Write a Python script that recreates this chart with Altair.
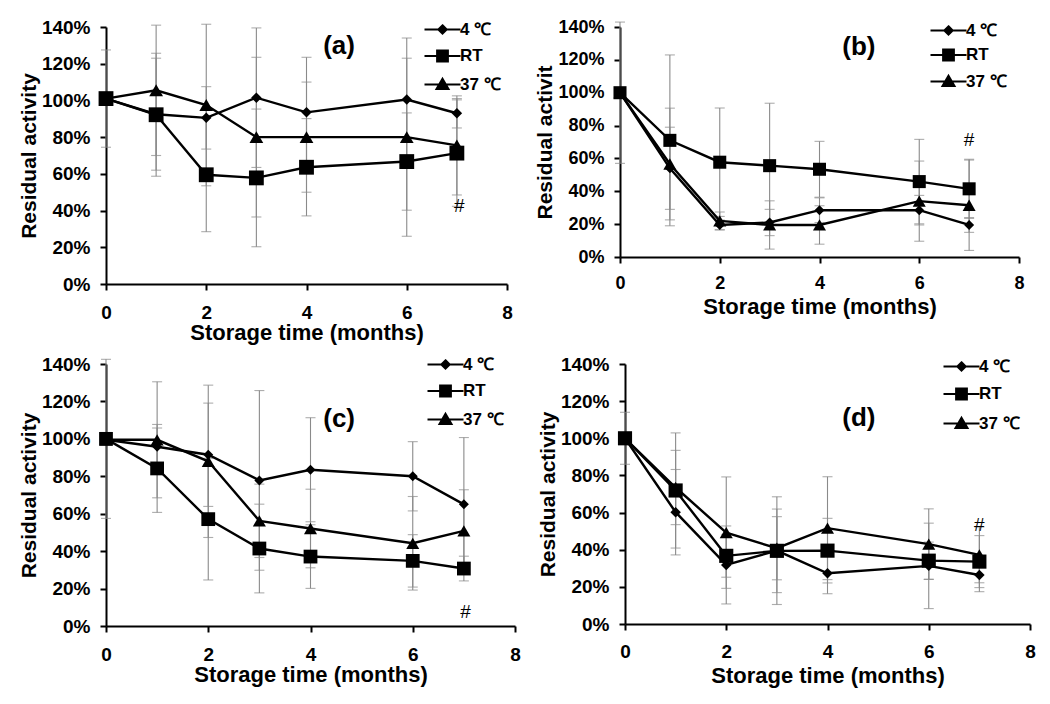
import altair as alt
import pandas as pd

FONT = "Liberation Sans"
GRAY = "#8a8a8a"

months = [0, 1, 2, 3, 4, 6, 7]
series_names = ["4 ℃", "RT", "37 ℃"]

# ---- panel (a) ----
a_4c = [101, 92.5, 90.5, 101.5, 93.5, 100.5, 93]
a_4c_err = [0, 30.5, 17, 38, 30, 22.5, 8]
a_rt = [101, 92.2, 59.5, 57.8, 63.6, 66.7, 71.3]
a_rt_err = [26.5, 33.5, 31, 37.5, 26.5, 26.5, 29]
a_37c = [101, 105.5, 97.5, 80, 80, 80, 75.5]
a_37c_err = [0, 35.5, 44, 43.5, 30, 54, 27]

# ---- panel (b) ----
b_4c = [100, 54, 19.5, 21, 28.5, 28.5, 19.5]
b_4c_err = [0, 25, 3, 8, 7.5, 9, 4.5]
b_rt = [100, 71, 57.7, 55.6, 53.4, 45.9, 41.5]
b_rt_err = [43, 52, 33, 38, 17, 25.7, 18]
b_37c = [100, 56.6, 22, 19.5, 19.5, 34, 31.5]
b_37c_err = [0, 34, 5.4, 14.7, 11.7, 24.4, 27.5]

# ---- panel (c) ----
c_4c = [99.5, 95.8, 91.5, 77.8, 83.5, 80, 65]
c_4c_err = [0, 10, 27.6, 48, 27.8, 18.5, 35.7]
c_rt = [100, 84.2, 57.1, 41.4, 37.1, 34.8, 30.7]
c_rt_err = [42.5, 23.5, 32.5, 23.7, 17, 14, 6.6]
c_37c = [99.5, 99.5, 88, 56.2, 52.1, 44.2, 50.8]
c_37c_err = [0, 31, 40.7, 19.6, 21, 25, 22]

# ---- panel (d) ----
d_4c = [100, 60.2, 31.8, 39.5, 27.3, 31.3, 26.4]
d_4c_err = [0, 23, 21, 29, 11, 23, 9]
d_rt = [100, 71.9, 36.7, 39.4, 39.5, 34.1, 33.6]
d_rt_err = [14, 31, 11.5, 22.5, 17.4, 10, 14]
d_37c = [100, 73.5, 49.2, 40.8, 51.6, 43, 37.2]
d_37c_err = [0, 20, 30, 17, 27.7, 19, 15]

# annotations (data coordinates)
panel_labels = ["(a)", "(b)", "(c)", "(d)"]
label_x = [4.65, 4.79, 4.56, 4.62]
label_y = [129.6, 127.8, 110.6, 110.9]
hash_x = [7.05, 7.0, 7.03, 7.0]
hash_y = [42.5, 71.2, 7.5, 53.3]

x_ticks = [0, 2, 4, 6, 8]
y_ticks = [0, 20, 40, 60, 80, 100, 120, 140]

# legend glyphs: a line segment with a marker drawn by concentric strokes
LINE = "M-3,0H3"
legend_paths = [
    LINE + "M0,-0.7L0.7,0L0,0.7L-0.7,0Z"
         + "M0,-0.45L0.45,0L0,0.45L-0.45,0Z"
         + "M0,-0.2L0.2,0L0,0.2L-0.2,0Z",
    LINE + "M-0.9,-0.9H0.9V0.9H-0.9Z"
         + "M-0.6,-0.6H0.6V0.6H-0.6Z"
         + "M-0.3,-0.3H0.3V0.3H-0.3Z"
         + "M-0.05,-0.05H0.05V0.05H-0.05Z",
    LINE + "M0,-0.95L1,0.75L-1,0.75Z"
         + "M0,-0.61L0.7,0.58L-0.7,0.58Z"
         + "M0,-0.27L0.4,0.41L-0.4,0.41Z"
         + "M0,0.07L0.1,0.24L-0.1,0.24Z",
]
point_shapes = ["diamond", "square", "triangle-up"]


def panel(i, means, errs, width, height, ytitle, tick_fs, xlabpad, xtitlepad,
          legx, legy, rowpad, sizes):
    rows = []
    for s, m, e in zip(series_names, means, errs):
        for mo, v, er in zip(months, m, e):
            rows.append(dict(month=mo, value=v, err=er, lo=v - er, hi=v + er, series=s))
    df = pd.DataFrame(rows)
    base = alt.Chart(df)

    xs = alt.Scale(domain=[0, 8], nice=False, zero=False)
    ys = alt.Scale(domain=[0, 140], nice=False)
    xax = alt.Axis(values=x_ticks, title="Storage time (months)", labelPadding=xlabpad,
                   titlePadding=xtitlepad, labelFontSize=tick_fs)
    yax = alt.Axis(values=y_ticks, labelExpr="datum.value + '%'", title=ytitle,
                   labelPadding=10, titlePadding=2, labelFontSize=tick_fs)

    def X(f):
        return alt.X(f, scale=xs, axis=xax)

    def Y(f):
        return alt.Y(f, scale=ys, axis=yax)

    eb = base.transform_filter("datum.err > 0")
    rules = eb.mark_rule(color=GRAY, strokeWidth=1.1).encode(
        x=X("month:Q"), y=Y("lo:Q"), y2="hi:Q")
    cap_lo = eb.mark_tick(color=GRAY, orient="horizontal", size=10, thickness=1.1).encode(
        x=X("month:Q"), y=Y("lo:Q"))
    cap_hi = eb.mark_tick(color=GRAY, orient="horizontal", size=10, thickness=1.1).encode(
        x=X("month:Q"), y=Y("hi:Q"))
    lines = base.mark_line(color="black", strokeWidth=2.4).encode(
        x=X("month:Q"), y=Y("value:Q"), detail="series:N")

    layers = [rules, cap_lo, cap_hi, lines]
    for s, shp, sz in zip(series_names, point_shapes, sizes):
        layers.append(
            base.transform_filter(alt.datum.series == s)
            .mark_point(shape=shp, filled=True, color="black", size=sz, opacity=1)
            .encode(x=X("month:Q"), y=Y("value:Q"))
        )

    leg = (
        base.transform_filter("false")
        .mark_point(filled=False, color="black", strokeWidth=2, opacity=1)
        .encode(
            x=X("month:Q"), y=Y("value:Q"),
            shape=alt.Shape(
                "series:N",
                scale=alt.Scale(domain=series_names, range=legend_paths),
                legend=alt.Legend(
                    orient="none", legendX=legx, legendY=legy, title=None,
                    labelFont=FONT, labelFontSize=17, labelFontWeight="bold",
                    labelColor="black", symbolSize=144, symbolStrokeWidth=2,
                    symbolStrokeColor="black", symbolOpacity=1,
                    labelOffset=9, rowPadding=rowpad, padding=0,
                ),
            ),
        )
    )
    layers.append(leg)

    lab_df = pd.DataFrame({"x": [label_x[i]], "y": [label_y[i]], "t": [panel_labels[i]]})
    lab = alt.Chart(lab_df).mark_text(font=FONT, fontSize=26, fontWeight="bold",
                                      color="black").encode(
        x=X("x:Q"), y=Y("y:Q"), text="t:N")
    hash_df = pd.DataFrame({"x": [hash_x[i]], "y": [hash_y[i]], "t": ["#"]})
    hsh = alt.Chart(hash_df).mark_text(font=FONT, fontSize=19, color="black").encode(
        x=X("x:Q"), y=Y("y:Q"), text="t:N")
    layers += [lab, hsh]

    return alt.layer(*layers).properties(width=width, height=height)


pa = panel(0, [a_4c, a_rt, a_37c], [a_4c_err, a_rt_err, a_37c_err], 401, 257,
           "Residual activity", 19, 13, 0, 328, -6, 8.5, [110, 220, 190])
pb = panel(1, [b_4c, b_rt, b_37c], [b_4c_err, b_rt_err, b_37c_err], 399, 230,
           "Residual activit", 18, 11, 4, 320, -5, 6.5, [100, 170, 170])
pc = panel(2, [c_4c, c_rt, c_37c], [c_4c_err, c_rt_err, c_37c_err], 409, 262,
           "Residual activity", 19, 13, 0, 331, -8, 8.5, [100, 190, 170])
pd_ = panel(3, [d_4c, d_rt, d_37c], [d_4c_err, d_rt_err, d_37c_err], 405, 260,
            "Residual activity", 19, 12, 4, 328, -6, 9.5, [110, 200, 170])

row1 = alt.hconcat(pa, pb, spacing=113, bounds="flush").resolve_scale(
    shape="independent").resolve_legend(shape="independent")
row2 = alt.hconcat(pc, pd_, spacing=110, bounds="flush").resolve_scale(
    shape="independent").resolve_legend(shape="independent")

chart = (
    alt.vconcat(row1, row2, spacing=12)
    .resolve_scale(shape="independent")
    .resolve_legend(shape="independent")
    .properties(padding={"left": 10, "top": 10, "right": 5, "bottom": 5})
    .configure_view(stroke=None)
    .configure_axis(
        domainColor="black", domainWidth=2, tickColor="black", tickWidth=2,
        tickSize=6, labelFont=FONT, labelFontWeight="bold",
        labelColor="black", titleFont=FONT, titleFontSize=21, titleFontWeight="bold",
        titleColor="black", grid=False, labelFlush=False, labelOverlap=False,
    )
    .configure_axisX(titleFontSize=22)
)

chart.save("out.html", embed_options={"renderer": "svg", "actions": False})
